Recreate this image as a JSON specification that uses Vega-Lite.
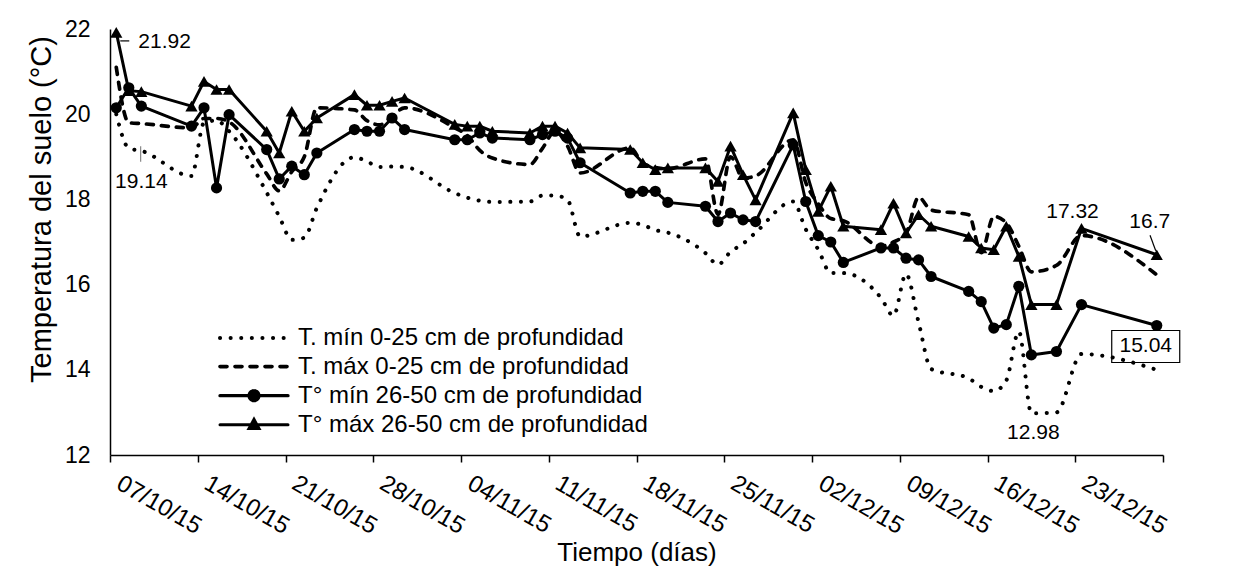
{
  "$schema": "https://vega.github.io/schema/vega-lite/v6.json",
  "width": 1053,
  "height": 426,
  "autosize": {"type": "none"},
  "padding": {"left": 110, "top": 29, "right": 90, "bottom": 122},
  "background": "white",
  "config": {
    "font": "Liberation Sans",
    "view": {"stroke": null},
    "axis": {"grid": false, "labelColor": "black", "titleColor": "black", "domainColor": "black", "tickColor": "black", "titleFontWeight": "normal"}
  },
  "datasets": {
    "medidas": [
      {"fecha": "2015-10-07", "a": 20.0, "b": 21.1, "c": 20.15, "d": 21.92},
      {"fecha": "2015-10-08", "a": 19.2, "b": 19.8, "c": 20.62, "d": 20.55},
      {"fecha": "2015-10-09", "a": 19.14, "b": 19.78, "c": 20.19, "d": 20.53},
      {"fecha": "2015-10-13", "a": 18.55, "b": 19.68, "c": 19.72, "d": 20.19},
      {"fecha": "2015-10-14", "a": 19.8, "b": 19.9, "c": 20.15, "d": 20.77},
      {"fecha": "2015-10-15", "a": 19.85, "b": 19.9, "c": 18.27, "d": 20.58},
      {"fecha": "2015-10-16", "a": 19.6, "b": 19.82, "c": 19.99, "d": 20.58},
      {"fecha": "2015-10-19", "a": 18.16, "b": 18.6, "c": 19.17, "d": 19.6},
      {"fecha": "2015-10-20", "a": 17.6, "b": 18.2, "c": 18.48, "d": 19.09},
      {"fecha": "2015-10-21", "a": 17.05, "b": 18.65, "c": 18.78, "d": 20.07},
      {"fecha": "2015-10-22", "a": 17.1, "b": 19.0, "c": 18.58, "d": 19.6},
      {"fecha": "2015-10-23", "a": 17.8, "b": 20.15, "c": 19.09, "d": 19.91},
      {"fecha": "2015-10-26", "a": 18.99, "b": 20.1, "c": 19.64, "d": 20.46},
      {"fecha": "2015-10-27", "a": 18.89, "b": 19.85, "c": 19.6, "d": 20.21},
      {"fecha": "2015-10-28", "a": 18.76, "b": 19.75, "c": 19.6, "d": 20.21},
      {"fecha": "2015-10-29", "a": 18.77, "b": 19.95, "c": 19.91, "d": 20.3},
      {"fecha": "2015-10-30", "a": 18.76, "b": 20.15, "c": 19.64, "d": 20.38},
      {"fecha": "2015-11-03", "a": 18.15, "b": 19.68, "c": 19.4, "d": 19.76},
      {"fecha": "2015-11-04", "a": 18.04, "b": 19.5, "c": 19.4, "d": 19.72},
      {"fecha": "2015-11-05", "a": 17.97, "b": 19.15, "c": 19.56, "d": 19.72},
      {"fecha": "2015-11-06", "a": 17.94, "b": 18.97, "c": 19.44, "d": 19.6},
      {"fecha": "2015-11-09", "a": 17.95, "b": 18.82, "c": 19.4, "d": 19.56},
      {"fecha": "2015-11-10", "a": 18.09, "b": 19.2, "c": 19.52, "d": 19.72},
      {"fecha": "2015-11-11", "a": 18.09, "b": 19.6, "c": 19.6, "d": 19.72},
      {"fecha": "2015-11-12", "a": 17.99, "b": 19.25, "c": 19.44, "d": 19.56},
      {"fecha": "2015-11-13", "a": 17.13, "b": 18.62, "c": 18.86, "d": 19.21},
      {"fecha": "2015-11-17", "a": 17.45, "b": 19.21, "c": 18.15, "d": 19.17},
      {"fecha": "2015-11-18", "a": 17.4, "b": 18.85, "c": 18.19, "d": 18.86},
      {"fecha": "2015-11-19", "a": 17.28, "b": 18.75, "c": 18.19, "d": 18.7},
      {"fecha": "2015-11-20", "a": 17.22, "b": 18.72, "c": 17.93, "d": 18.74},
      {"fecha": "2015-11-23", "a": 16.74, "b": 18.95, "c": 17.84, "d": 18.74},
      {"fecha": "2015-11-24", "a": 16.47, "b": 17.65, "c": 17.48, "d": 18.42},
      {"fecha": "2015-11-25", "a": 16.77, "b": 19.0, "c": 17.68, "d": 19.25},
      {"fecha": "2015-11-26", "a": 16.96, "b": 18.5, "c": 17.52, "d": 18.58},
      {"fecha": "2015-11-27", "a": 17.22, "b": 18.55, "c": 17.48, "d": 17.99},
      {"fecha": "2015-11-30", "a": 17.95, "b": 19.4, "c": 19.28, "d": 20.03},
      {"fecha": "2015-12-01", "a": 17.3, "b": 18.4, "c": 17.95, "d": 18.7},
      {"fecha": "2015-12-02", "a": 16.82, "b": 17.9, "c": 17.15, "d": 17.72},
      {"fecha": "2015-12-03", "a": 16.27, "b": 17.55, "c": 17.0, "d": 18.31},
      {"fecha": "2015-12-04", "a": 16.27, "b": 17.5, "c": 16.52, "d": 17.37},
      {"fecha": "2015-12-07", "a": 15.69, "b": 16.9, "c": 16.86, "d": 17.29},
      {"fecha": "2015-12-08", "a": 15.27, "b": 17.0, "c": 16.86, "d": 17.91},
      {"fecha": "2015-12-09", "a": 16.25, "b": 17.2, "c": 16.62, "d": 17.21},
      {"fecha": "2015-12-10", "a": 15.12, "b": 18.05, "c": 16.58, "d": 17.64},
      {"fecha": "2015-12-11", "a": 14.02, "b": 17.75, "c": 16.19, "d": 17.37},
      {"fecha": "2015-12-14", "a": 13.8, "b": 17.64, "c": 15.84, "d": 17.13},
      {"fecha": "2015-12-15", "a": 13.6, "b": 16.75, "c": 15.6, "d": 16.86},
      {"fecha": "2015-12-16", "a": 13.5, "b": 17.6, "c": 14.98, "d": 16.82},
      {"fecha": "2015-12-17", "a": 13.75, "b": 17.45, "c": 15.06, "d": 17.37},
      {"fecha": "2015-12-18", "a": 14.9, "b": 16.9, "c": 15.96, "d": 16.66},
      {"fecha": "2015-12-19", "a": 12.98, "b": 16.3, "c": 14.35, "d": 15.53},
      {"fecha": "2015-12-21", "a": 13.0, "b": 16.45, "c": 14.43, "d": 15.53},
      {"fecha": "2015-12-23", "a": 14.37, "b": 17.15, "c": 15.53, "d": 17.32},
      {"fecha": "2015-12-29", "a": 14.0, "b": 16.23, "c": 15.04, "d": 16.7}
    ]
  },
  "encoding": {
    "x": {
      "field": "fecha", "type": "temporal", "timeUnit": "utcyearmonthdate", "bandPosition": 0.5,
      "scale": {"domain": [{"year": 2015, "month": 10, "date": 7, "utc": true}, {"year": 2015, "month": 12, "date": 30, "utc": true}]},
      "axis": {
        "values": [
          {"year": 2015, "month": 10, "date": 7, "utc": true},
          {"year": 2015, "month": 10, "date": 14, "utc": true},
          {"year": 2015, "month": 10, "date": 21, "utc": true},
          {"year": 2015, "month": 10, "date": 28, "utc": true},
          {"year": 2015, "month": 11, "date": 4, "utc": true},
          {"year": 2015, "month": 11, "date": 11, "utc": true},
          {"year": 2015, "month": 11, "date": 18, "utc": true},
          {"year": 2015, "month": 11, "date": 25, "utc": true},
          {"year": 2015, "month": 12, "date": 2, "utc": true},
          {"year": 2015, "month": 12, "date": 9, "utc": true},
          {"year": 2015, "month": 12, "date": 16, "utc": true},
          {"year": 2015, "month": 12, "date": 23, "utc": true},
          {"year": 2015, "month": 12, "date": 30, "utc": true}
        ],
        "labelExpr": "datum.value > 1451000000000 ? '' : utcFormat(datum.value, '%d/%m/%y')",
        "labelAngle": 30, "labelAlign": "left", "labelBaseline": "top",
        "labelFontSize": 24, "labelPadding": 9, "labelOffset": 14, "labelOverlap": false, "labelFlush": false,
        "tickSize": 7, "tickWidth": 1.5, "domainWidth": 1.5,
        "title": "Tiempo (días)", "titleFontSize": 26, "titlePadding": 1
      }
    },
    "y": {
      "field": "temp", "type": "quantitative",
      "scale": {"domain": [12, 22], "nice": false, "zero": false},
      "axis": {
        "values": [12, 14, 16, 18, 20, 22], "ticks": false, "domainWidth": 1.5,
        "labelFontSize": 23, "labelPadding": 20,
        "title": "Temperatura del suelo (°C)", "titleFontSize": 29, "titlePadding": 8, "titleY": 180
      }
    }
  },
  "layer": [
    {
      "data": {"name": "medidas"},
      "transform": [
        {"fold": ["a", "b"], "as": ["serie", "temp"]}
      ],
      "mark": {"type": "line", "interpolate": "monotone", "color": "black", "strokeCap": "round", "strokeJoin": "round"},
      "encoding": {
        "strokeDash": {
          "field": "serie", "type": "nominal",
          "scale": {"domain": ["a", "b", "c", "d"], "range": [[0.1, 10.5], [7, 8], [1, 0], [1, 0]]},
          "legend": {
            "orient": "none", "legendX": 128, "legendY": 293, "title": null,
            "labelFontSize": 24, "labelColor": "black", "labelLimit": 700, "labelOffset": 28,
            "symbolSize": 740, "symbolStrokeColor": "black", "symbolFillColor": "black", "symbolStrokeWidth": 3,
            "rowPadding": 1.1,
            "labelExpr": "datum.value === 'a' ? 'T. mín 0-25 cm de profundidad' : datum.value === 'b' ? 'T. máx 0-25 cm de profundidad' : datum.value === 'c' ? 'T° mín 26-50 cm de profundidad' : 'T° máx 26-50 cm de profundidad'",
            "encode": {
              "symbols": {
                "update": {
                  "shape": {"signal": "datum.value === 'c' ? 'M-2.5,0H2.5M0.36,0A0.36,0.36,0,1,1,-0.36,0A0.36,0.36,0,1,1,0.36,0' : datum.value === 'd' ? 'M-2.5,0H2.5M0,-0.4L0.37,0.28L-0.37,0.28Z' : 'M-2.5,0H2.5'"},
                  "strokeWidth": {"signal": "datum.value === 'a' ? 4 : 3"},
                  "strokeCap": {"value": "round"},
                  "fill": {"value": "black"},
                  "stroke": {"value": "black"}
                }
              }
            }
          }
        },
        "strokeWidth": {
          "field": "serie", "type": "nominal",
          "scale": {"domain": ["a", "b", "c", "d"], "range": [4, 3, 3, 3]},
          "legend": null
        }
      }
    },
    {
      "data": {"name": "medidas"},
      "transform": [
        {"fold": ["c", "d"], "as": ["serie", "temp"]}
      ],
      "mark": {"type": "line", "interpolate": "linear", "color": "black", "strokeCap": "round", "strokeJoin": "round", "strokeWidth": 3},
      "encoding": {
        "detail": {"field": "serie", "type": "nominal"}
      }
    },
    {
      "data": {"name": "medidas"},
      "transform": [
        {"fold": ["c", "d"], "as": ["serie", "temp"]}
      ],
      "mark": {"type": "point", "filled": true, "color": "black", "opacity": 1},
      "encoding": {
        "shape": {
          "field": "serie", "type": "nominal",
          "scale": {"domain": ["c", "d"], "range": ["circle", "triangle-up"]},
          "legend": null
        },
        "size": {
          "field": "serie", "type": "nominal",
          "scale": {"domain": ["c", "d"], "range": [125, 150]},
          "legend": null
        }
      }
    },
    {
      "data": {"values": [{"fecha": "2015-10-07", "temp": 21.92}]},
      "mark": {"type": "point", "shape": "M0.4,0.85H1.3", "size": 400, "filled": false, "stroke": "black", "strokeWidth": 1.2, "opacity": 1}
    },
    {
      "data": {"values": [{"fecha": "2015-10-09", "temp": 19.14}]},
      "mark": {"type": "point", "shape": "M-0.07,-0.45V1.1", "size": 400, "filled": false, "stroke": "#888888", "strokeWidth": 1.2, "opacity": 1}
    },
    {
      "data": {"values": [{"fecha": "2015-12-29", "temp": 16.7}]},
      "mark": {"type": "point", "shape": "M-0.67,-1.95L-0.1,-0.4", "size": 400, "filled": false, "stroke": "black", "strokeWidth": 1.2, "opacity": 1}
    },
    {
      "data": {"values": [{"fecha": "2015-12-29", "temp": 15.04}]},
      "mark": {"type": "point", "shape": "M-4.5,0.5H2.3V3.7H-4.5Z", "size": 400, "filled": false, "stroke": "black", "strokeWidth": 1.2, "opacity": 1}
    },
    {
      "data": {"values": [{"fecha": "2015-10-07", "temp": 21.92, "etiqueta": "21.92"}]},
      "mark": {"type": "text", "align": "left", "baseline": "middle", "dx": 22, "dy": 10, "fontSize": 21, "color": "black"},
      "encoding": {"text": {"field": "etiqueta"}}
    },
    {
      "data": {"values": [{"fecha": "2015-10-09", "temp": 19.14, "etiqueta": "19.14"}]},
      "mark": {"type": "text", "align": "center", "baseline": "middle", "dx": 0, "dy": 31, "fontSize": 21, "color": "black"},
      "encoding": {"text": {"field": "etiqueta"}}
    },
    {
      "data": {"values": [{"fecha": "2015-12-23", "temp": 17.32, "etiqueta": "17.32"}]},
      "mark": {"type": "text", "align": "center", "baseline": "middle", "dx": -9, "dy": -16, "fontSize": 21, "color": "black"},
      "encoding": {"text": {"field": "etiqueta"}}
    },
    {
      "data": {"values": [{"fecha": "2015-12-29", "temp": 16.7, "etiqueta": "16.7"}]},
      "mark": {"type": "text", "align": "center", "baseline": "middle", "dx": -7, "dy": -33, "fontSize": 21, "color": "black"},
      "encoding": {"text": {"field": "etiqueta"}}
    },
    {
      "data": {"values": [{"fecha": "2015-12-29", "temp": 15.04, "etiqueta": "15.04"}]},
      "mark": {"type": "text", "align": "center", "baseline": "middle", "dx": -11, "dy": 21, "fontSize": 21, "color": "black"},
      "encoding": {"text": {"field": "etiqueta"}}
    },
    {
      "data": {"values": [{"fecha": "2015-12-19", "temp": 12.98, "etiqueta": "12.98"}]},
      "mark": {"type": "text", "align": "center", "baseline": "middle", "dx": 2, "dy": 20, "fontSize": 21, "color": "black"},
      "encoding": {"text": {"field": "etiqueta"}}
    }
  ]
}
